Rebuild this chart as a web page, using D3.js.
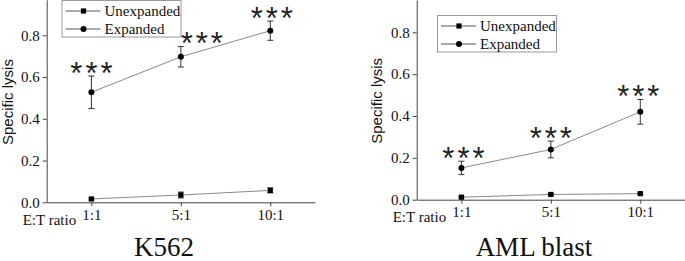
<!DOCTYPE html>
<html>
<head>
<meta charset="utf-8">
<script src="https://cdn.jsdelivr.net/npm/d3@7"></script>
<style>
  html, body { margin: 0; padding: 0; background: #fff; }
  svg { display: block; }
</style>
</head>
<body>
<svg id="chart" width="685" height="261"></svg>
<script>
// Kategorier och mätvärden
const categories = ["1:1", "5:1", "10:1"];
const yTicks = [0, 0.2, 0.4, 0.6, 0.8];
const seriesNames = ["Unexpanded", "Expanded"];

const k562Unexp = [0.016, 0.035, 0.057];
const k562UnexpErr = [0.005, 0.014, 0.012];
const k562Exp = [0.527, 0.697, 0.822];
const k562ExpErr = [0.078, 0.049, 0.046];

const amlUnexp = [0.012, 0.025, 0.029];
const amlUnexpErr = [0.004, 0.004, 0.004];
const amlExp = [0.152, 0.24, 0.42];
const amlExpErr = [0.032, 0.04, 0.059];

const panelTitles = ["K562", "AML blast"];
const starText = "***";

// Paneluppsättning
const panels = [
  {
    title: panelTitles[0],
    x0: 46.7, x1: 315, yZero: 202.3, yTopVal: 0.97, pxPerUnit: 208.75,
    labelX: 13, legend: { x: 62, y: 0.5 },
    starShift: [0, 21, 1.5],
    series: [
      { vals: k562Unexp, err: k562UnexpErr, shape: "square" },
      { vals: k562Exp, err: k562ExpErr, shape: "circle", stars: true }
    ],
    titleX: 164
  },
  {
    title: panelTitles[1],
    x0: 416.7, x1: 685, yZero: 199.7, yTopVal: 0.954, pxPerUnit: 209.25,
    labelX: 382, legend: { x: 437.5, y: 15.5 },
    starShift: [2, 0, -2],
    series: [
      { vals: amlUnexp, err: amlUnexpErr, shape: "square" },
      { vals: amlExp, err: amlExpErr, shape: "circle", stars: true }
    ],
    titleX: 534
  }
];

const svg = d3.select("#chart");
const SERIF = '"Liberation Serif", "Times New Roman", serif';
const SANS = '"Liberation Sans", Arial, sans-serif';
const AXIS_COLOR = "#444";

function drawMarker(g, shape, x, y) {
  if (shape === "square") {
    g.append("rect")
      .attr("x", x - 2.6).attr("y", y - 2.6)
      .attr("width", 5.2).attr("height", 5.2)
      .attr("fill", "#000");
  } else {
    g.append("circle")
      .attr("cx", x).attr("cy", y).attr("r", 3)
      .attr("fill", "#000");
  }
}

panels.forEach(p => {
  const g = svg.append("g");

  const x = d3.scalePoint()
    .domain(categories)
    .range([p.x0, p.x1])
    .padding(0.5);

  const y = d3.scaleLinear()
    .domain([0, p.yTopVal])
    .range([p.yZero, p.yZero - p.yTopVal * p.pxPerUnit]);

  // Axlar
  const yAxis = d3.axisLeft(y)
    .tickValues(yTicks)
    .tickFormat(d3.format(".1f"))
    .tickSizeInner(4)
    .tickSizeOuter(0)
    .tickPadding(3);

  const xAxis = d3.axisBottom(x)
    .tickSizeInner(4)
    .tickSizeOuter(0)
    .tickPadding(3);

  const gy = g.append("g")
    .attr("transform", `translate(${p.x0},0)`)
    .call(yAxis);

  const gx = g.append("g")
    .attr("transform", `translate(0,${p.yZero})`)
    .call(xAxis);

  [gx, gy].forEach(a => {
    a.attr("font-family", SERIF).attr("font-size", 15);
    a.selectAll("path, line").attr("stroke", AXIS_COLOR).attr("stroke-width", 1);
    a.selectAll("text")
      .attr("fill", "#111")
      .style("font-family", SERIF)
      .style("font-size", "15px");
  });

  // Axeltitlar
  g.append("text")
    .attr("transform", `translate(${p.labelX},${(y(0) + y(p.yTopVal)) / 2 + 1}) rotate(-90)`)
    .attr("text-anchor", "middle")
    .style("font-family", SANS)
    .style("font-size", "15px")
    .attr("fill", "#111")
    .text("Specific lysis");

  g.append("text")
    .attr("x", p.x0 - 24)
    .attr("y", p.yZero + 22.7)
    .style("font-family", SERIF)
    .style("font-size", "15px")
    .attr("fill", "#111")
    .text("E:T ratio");

  // Serier: linjer, felstaplar, markörer
  const line = d3.line()
    .x((d, i) => x(categories[i]))
    .y(d => y(d));

  p.series.forEach(s => {
    g.append("path")
      .datum(s.vals)
      .attr("d", line)
      .attr("fill", "none")
      .attr("stroke", "#8a8a8a")
      .attr("stroke-width", 1);

    s.vals.forEach((v, i) => {
      const cx = x(categories[i]);
      const top = y(v + s.err[i]);
      const bot = y(v - s.err[i]);
      g.append("line")
        .attr("x1", cx).attr("x2", cx).attr("y1", top).attr("y2", bot)
        .attr("stroke", "#333").attr("stroke-width", 1);
      [top, bot].forEach(yy => {
        g.append("line")
          .attr("x1", cx - 3).attr("x2", cx + 3).attr("y1", yy).attr("y2", yy)
          .attr("stroke", "#333").attr("stroke-width", 1);
      });
      drawMarker(g, s.shape, cx, y(v));

      if (s.stars) {
        g.append("text")
          .attr("x", cx + 1.5 + p.starShift[i])
          .attr("y", top - 10.5 + 18)
          .attr("text-anchor", "middle")
          .style("font-family", SANS)
          .style("font-size", "31px")
          .style("letter-spacing", "3px")
          .attr("fill", "#222")
          .text(starText);
      }
    });
  });

  // Legend
  const lg = g.append("g").attr("transform", `translate(${p.legend.x},${p.legend.y})`);
  lg.append("rect")
    .attr("width", 119).attr("height", 36.5)
    .attr("fill", "#fff")
    .attr("stroke", "#999").attr("stroke-width", 1);

  seriesNames.forEach((name, i) => {
    const ry = 10.5 + i * 18;
    lg.append("line")
      .attr("x1", 3.5).attr("x2", 38.5).attr("y1", ry).attr("y2", ry)
      .attr("stroke", "#555").attr("stroke-width", 1);
    drawMarker(lg, p.series[i].shape, 21.5, ry);
    lg.append("text")
      .attr("x", 42.5).attr("y", ry + 5)
      .style("font-family", SERIF)
      .style("font-size", "15px")
      .attr("fill", "#111")
      .text(name);
  });

  // Paneltitel
  g.append("text")
    .attr("x", p.titleX)
    .attr("y", 256)
    .attr("text-anchor", "middle")
    .style("font-family", SERIF)
    .style("font-size", "27px")
    .attr("fill", "#111")
    .text(p.title);
});
</script>
</body>
</html>
